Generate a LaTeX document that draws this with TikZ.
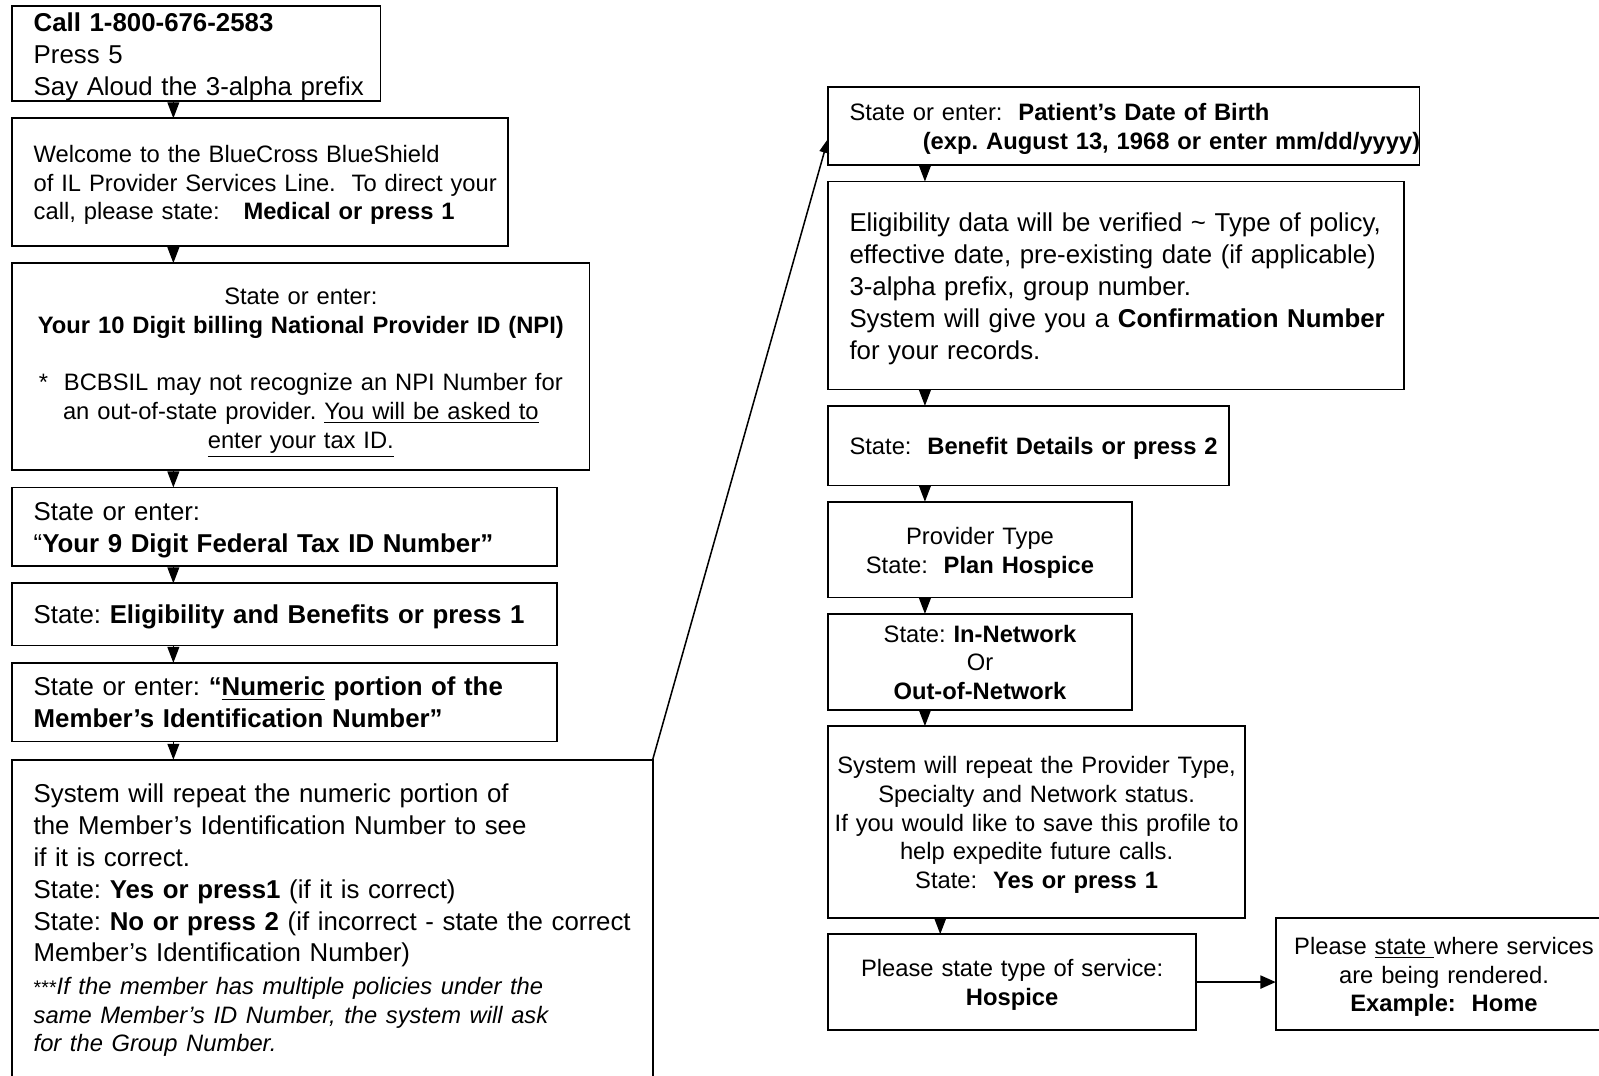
\documentclass[tikz,border=0pt]{standalone}
\usepackage{fontspec}
\setmainfont{Liberation Sans}
\usepackage{tikz}
\usetikzlibrary{arrows.meta, positioning}
\frenchspacing
\newcommand{\ux}{0.466pt}
\tikzset{stepbox/.style={draw=black, line width=0.8pt, rectangle, outer sep=0pt, inner xsep=2pt, inner ysep=0pt, anchor=north west},
    leftbox/.style={stepbox, align=left, execute at begin node={\leftskip=7.8pt}},
    midbox/.style={stepbox, align=center},
    sized/.style 2 args={minimum width=#1*\ux, minimum height=#2*\ux, text width=#1*\ux-4pt},
    drop/.style={execute at end node={\par\kern-#1}}, drop/.default=2.8pt,
    bigtext/.style={font=\fontsize{11.8}{14.56}\selectfont},
    smalltext/.style={font=\fontsize{10.85}{13.1}\selectfont},
    down/.style={line width=0.6pt, -{Triangle[length=7.3pt, width=5.4pt]}},
    over/.style={line width=0.7pt, -{Triangle[length=6.5pt, width=4.4pt]}},
    sideways/.style={line width=0.8pt, -{Triangle[length=7pt, width=6pt]}}}

\begin{document}
\begin{tikzpicture}[x=0.466pt, y=-0.466pt]
                 \useasboundingbox (0,0) rectangle (1568,1055);

                 \node[leftbox, bigtext, drop, sized={361}{93}] (call) at (12,6)
                   {\textbf{Call 1-800-676-2583}\\ Press 5\\ Say Aloud the 3-alpha prefix};
                 \node[leftbox, smalltext, drop, sized={486}{125}] (welcome) at (12,116)
                   {Welcome to the BlueCross BlueShield\\ of IL Provider Services Line.\ \ To direct your\\ call, please state:\ \ \ \textbf{Medical or press 1}};
                 \node[midbox, smalltext, drop=5.6pt, sized={566}{203}] (npi) at (12,258)
                   {State or enter:\\ \textbf{Your 10 Digit billing National Provider ID (NPI)}\\[13.1pt]
                    *\ \ BCBSIL may not recognize an NPI Number for\\ an out-of-state provider. \underline{You will be asked to}\\ \underline{enter your tax ID.}};
                 \node[leftbox, bigtext, drop, sized={534}{77}] (taxid) at (12,478)
                   {State or enter:\\ “\textbf{Your 9 Digit Federal Tax ID Number”}};
                 \node[leftbox, bigtext, drop, sized={534}{61}] (benefits) at (12,572)
                   {State: \textbf{Eligibility and Benefits or press 1}};
                 \node[leftbox, bigtext, drop=0.5pt, sized={534}{77}] (memberid) at (12,650)
                   {State or enter: \textbf{“\underline{Numeric} portion of the}\\ \textbf{Member’s Identification Number”}};
                 \node[leftbox, bigtext, sized={628}{315}] (repeat) at (12,745)
                   {System will repeat the numeric portion of\\ the Member’s Identification Number to see\\ if it is correct.\\
                    State: \textbf{Yes or press1} (if it is correct)\\ State: \textbf{No or press 2} (if incorrect - state the correct\\
                    Member’s Identification Number)\\[1.8pt]
                    {\fontsize{10.85}{13.1}\selectfont{\fontsize{9}{10}\selectfont ***}\textit{If the member has multiple policies under the}\\
                    \textit{same Member’s ID Number, the system will ask}\\ \textit{for the Group Number.}\par}};

                 \node[leftbox, smalltext, drop, sized={580}{77}] (birth) at (812,85)
                   {State or enter:\ \ \textbf{Patient’s Date of Birth}\\ \mbox{\hspace*{33.5pt}\textbf{(exp. August 13, 1968 or enter mm/dd/yyyy)}}};
                 \node[leftbox, bigtext, drop, sized={565}{204}] (verify) at (812,178)
                   {Eligibility data will be verified \textasciitilde{} Type of policy,\\ effective date, pre-existing date (if applicable)\\ 3-alpha prefix, group number.\\
                    System will give you a \textbf{Confirmation Number}\\ for your records.};
                 \node[leftbox, smalltext, drop, sized={393}{78}] (details) at (812,398)
                   {State:\ \ \textbf{Benefit Details or press 2}};
                 \node[midbox, smalltext, drop, sized={298}{94}] (provider) at (812,492)
                   {Provider Type\\ State:\ \ \textbf{Plan Hospice}};
                 \node[midbox, smalltext, drop=0.5pt, sized={298}{94}] (network) at (812,602)
                   {State: \textbf{In-Network}\\ Or\\ \textbf{Out-of-Network}};
                 \node[midbox, smalltext, drop, sized={409}{188}] (profile) at (812,712)
                   {System will repeat the Provider Type,\\ Specialty and Network status.\\ If you would like to save this profile to\\ help expedite future calls.\\ State:\ \ \textbf{Yes or press 1}};
                 \node[midbox, smalltext, drop, sized={361}{94}] (service) at (812,916)
                   {Please state type of service:\\ \textbf{Hospice}};
                 \node[midbox, smalltext, drop, sized={330}{110}] (place) at (1251,900)
                   {Please \underline{state }where services\\ are being rendered.\\ \textbf{Example:\ \ Home}};

                 \draw[down] ([xshift=158*\ux]call.south west) -- ([xshift=158*\ux]welcome.north west);
                 \draw[down] ([xshift=158*\ux]welcome.south west) -- ([xshift=158*\ux]npi.north west);
                 \draw[down] ([xshift=158*\ux]npi.south west) -- ([xshift=158*\ux]taxid.north west);
                 \draw[down] ([xshift=158*\ux]taxid.south west) -- ([xshift=158*\ux]benefits.north west);
                 \draw[down] ([xshift=158*\ux]benefits.south west) -- ([xshift=158*\ux]memberid.north west);
                 \draw[down] ([xshift=158*\ux]memberid.south west) -- ([xshift=158*\ux]repeat.north west);

                 \draw[over] (repeat.north east) -- ([yshift=-12.5*\ux]birth.west);

                 \draw[down] ([xshift=95*\ux]birth.south west) -- ([xshift=95*\ux]verify.north west);
                 \draw[down] ([xshift=95*\ux]verify.south west) -- ([xshift=95*\ux]details.north west);
                 \draw[down] ([xshift=95*\ux]details.south west) -- ([xshift=95*\ux]provider.north west);
                 \draw[down] ([xshift=95*\ux]provider.south west) -- ([xshift=95*\ux]network.north west);
                 \draw[down] ([xshift=95*\ux]network.south west) -- ([xshift=95*\ux]profile.north west);
                 \draw[down] ([xshift=110*\ux]profile.south west) -- ([xshift=110*\ux]service.north west);

                 \draw[sideways] (service.east) -- (service.east -| place.west);
\end{tikzpicture}
\end{document}
